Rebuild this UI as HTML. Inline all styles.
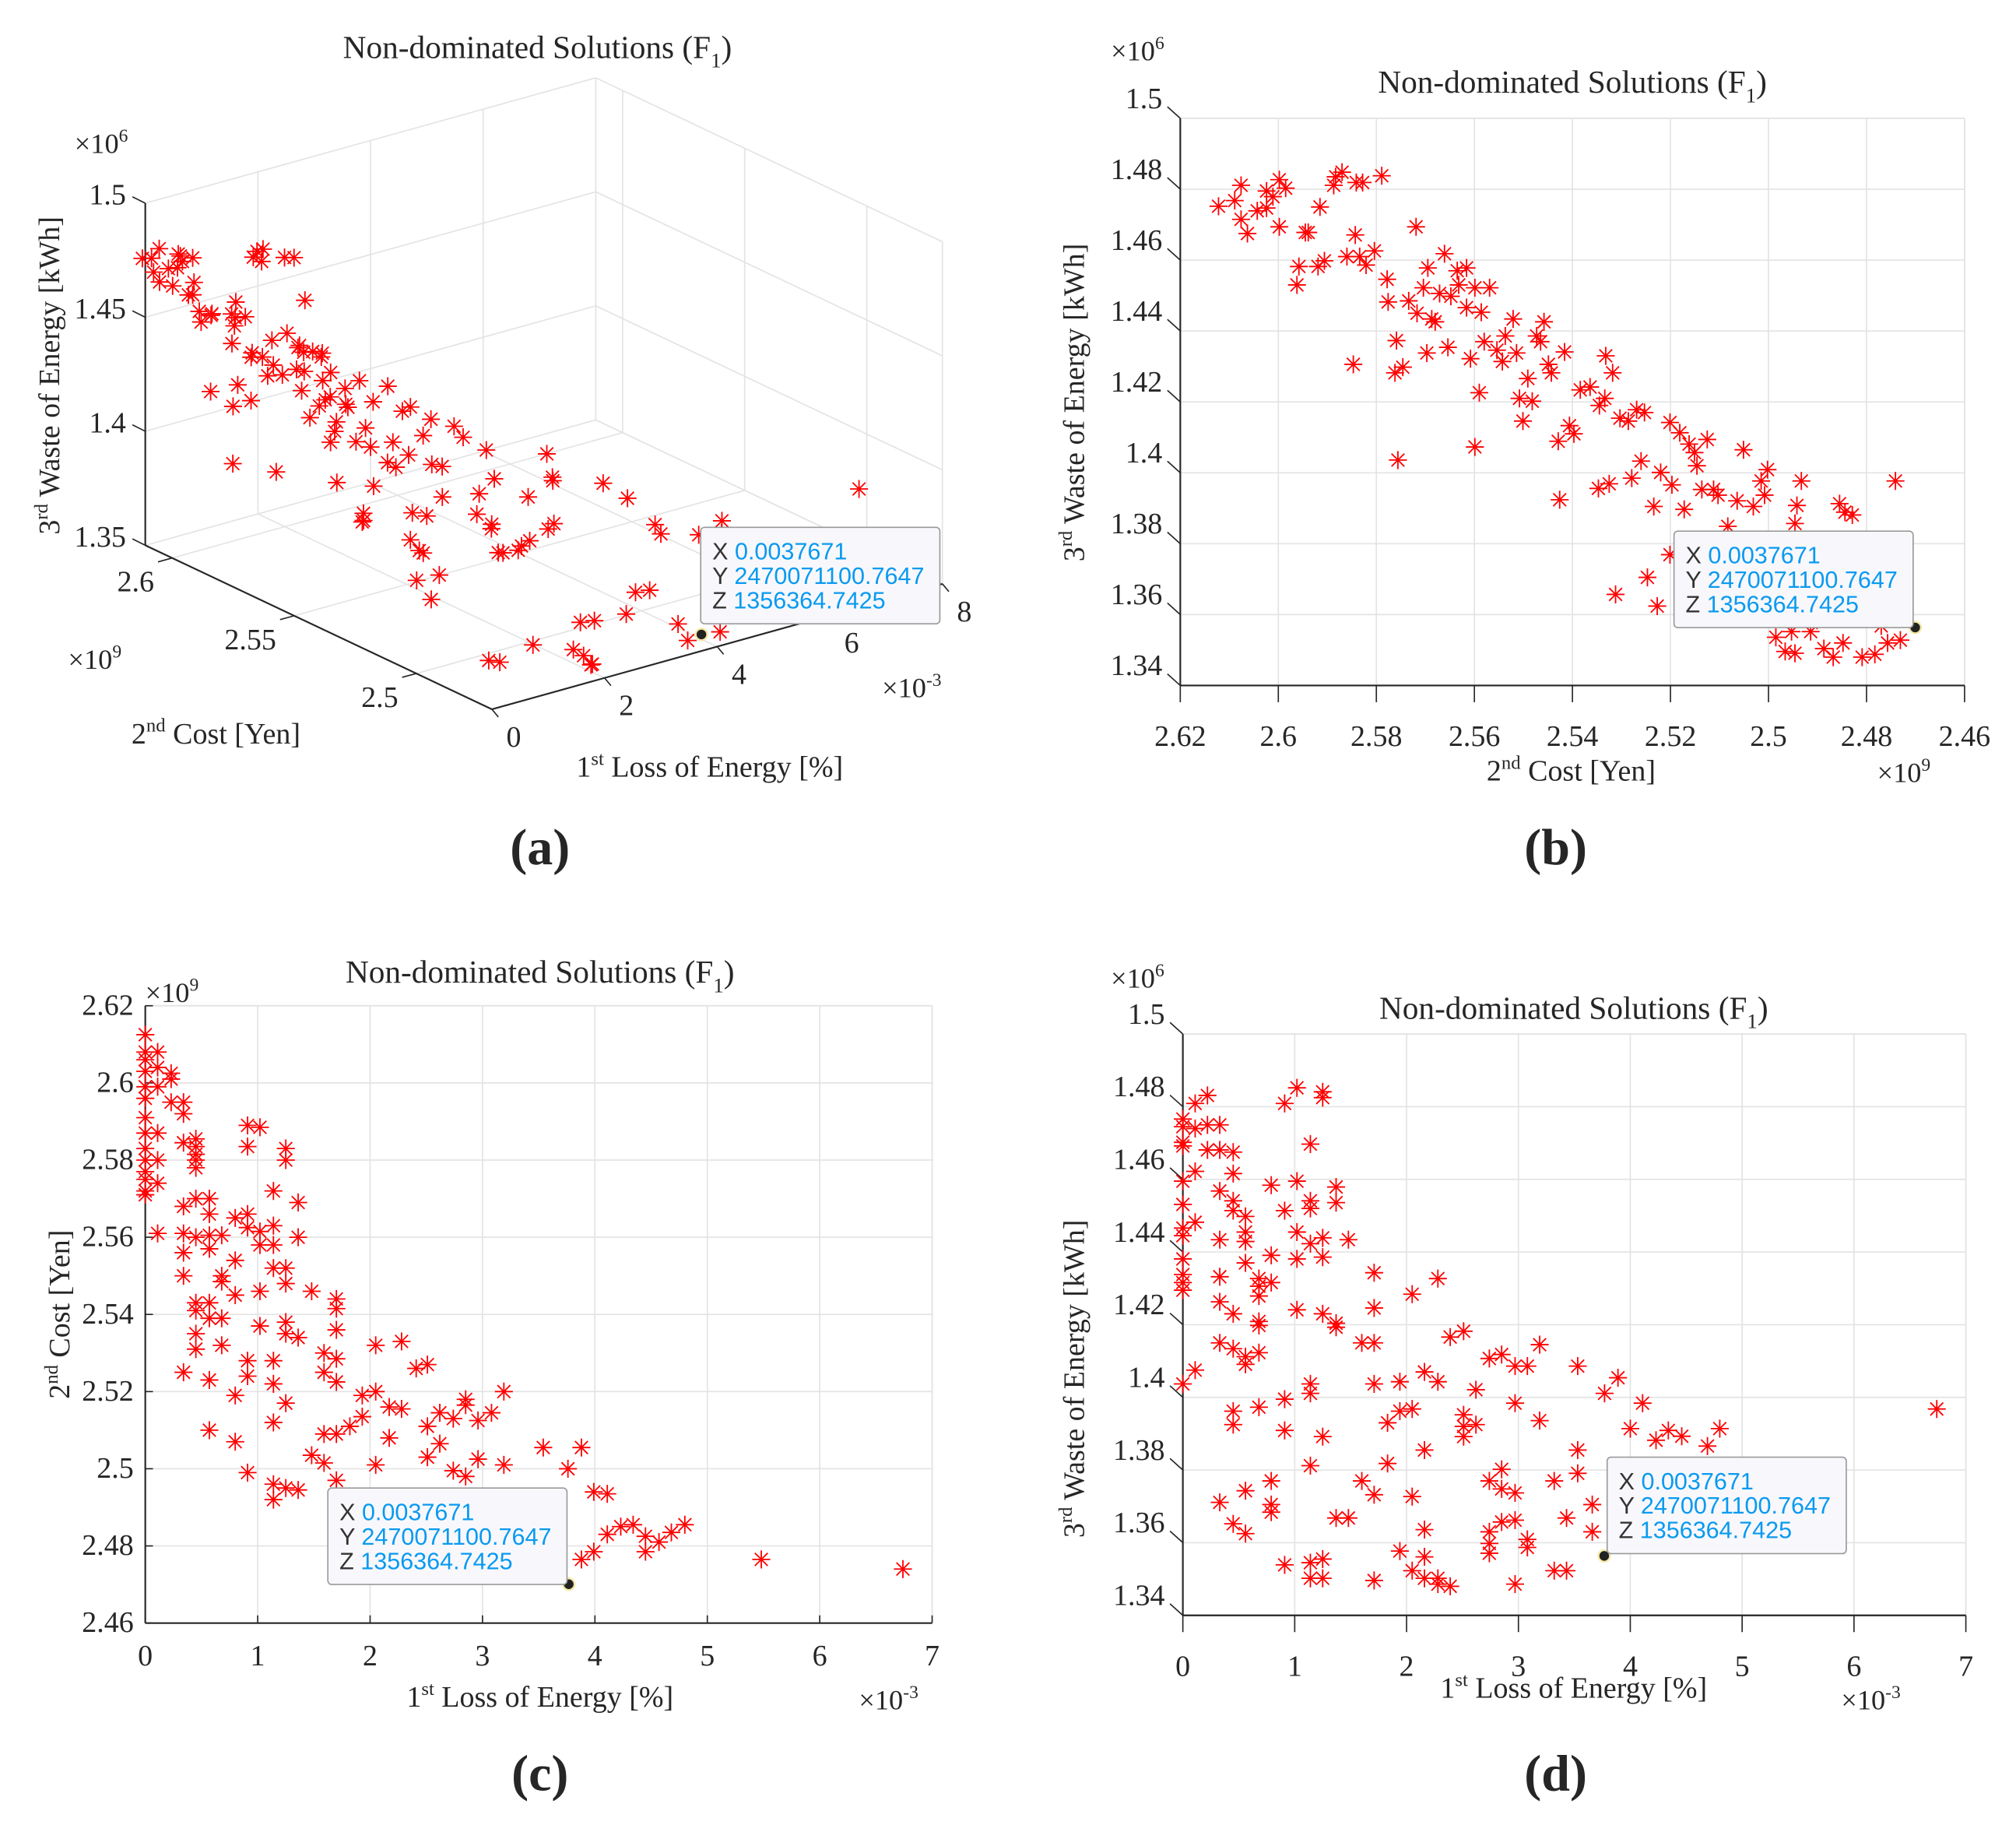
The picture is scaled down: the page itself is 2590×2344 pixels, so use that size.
<!DOCTYPE html>
<html><head><meta charset="utf-8"><title>Non-dominated Solutions</title>
<style>
html,body{margin:0;padding:0;background:#fff;}
svg{display:block;}
.t{font-family:"Liberation Serif",serif;fill:#262626;}
.tt{font-family:"Liberation Sans",sans-serif;}
</style></head>
<body>
<svg id="fig" width="2590" height="2344" viewBox="0 0 1568 1419" preserveAspectRatio="none" xmlns="http://www.w3.org/2000/svg">
<rect x="0" y="0" width="1568" height="1419" fill="#fff"/>
<g id="pa"></g>
<g id="pb"></g>
<g id="pc"></g>
<g id="pd"></g>
</svg>
<script>
// ---------- data ----------
// panel (b): cost [x1e9] vs waste [x1e6]
const bCost = [2.6122,2.6089,2.6076,2.6076,2.6063,2.6043,2.6024,2.6024,2.6011,2.5998,2.5998,2.5985,
2.5962,2.5958,2.5945,2.5939,2.5919,2.5915,2.5906,2.5887,2.5883,2.5870,2.5860,2.5847,
2.5843,2.5841,2.5834,2.5828,2.5821,2.5804,2.5789,2.5778,2.5776,2.5762,2.5759,2.5756,
2.5746,2.5734,2.5719,2.5717,2.5704,2.5697,2.5695,2.5687,2.5680,2.5671,2.5661,2.5654,
2.5648,2.5635,2.5632,2.5616,2.5616,2.5608,2.5599,2.5599,2.5590,2.5586,2.5580,2.5569,
2.5554,2.5543,2.5537,2.5521,2.5514,2.5508,2.5501,2.5491,2.5482,2.5473,2.5465,2.5458,
2.5449,2.5443,2.5429,2.5426,2.5416,2.5406,2.5397,2.5384,2.5364,2.5347,2.5345,2.5334,
2.5332,2.5325,2.5318,2.5303,2.5286,2.5279,2.5269,2.5260,2.5253,2.5234,2.5220,2.5201,
2.5197,2.5181,2.5172,2.5162,2.5151,2.5146,2.5136,2.5125,2.5112,2.5103,2.5083,2.5064,
2.5051,2.5031,2.5015,2.5008,2.5002,2.4942,2.4933,2.4946,2.4855,2.4844,2.4829,2.4741,
2.5201,2.5247,2.5312,2.5227,2.4985,2.4966,2.4953,2.4946,2.4914,2.4887,2.4868,2.4848,
2.4809,2.4783,2.4770,2.4757,2.4731,2.4901,2.4816,2.4796,2.4835,2.4946];
const bWaste = [1.4752,1.4768,1.4811,1.4715,1.4675,1.4739,1.4747,1.4795,1.4779,1.4827,1.4694,1.4803,
1.4530,1.4582,1.4678,1.4678,1.4582,1.4750,1.4598,1.4811,1.4835,1.4848,1.4610,1.4306,
1.4671,1.4819,1.4610,1.4819,1.4586,1.4626,1.4838,1.4546,1.4482,1.4282,1.4373,1.4036,
1.4298,1.4485,1.4694,1.4450,1.4522,1.4338,1.4578,1.4434,1.4426,1.4506,1.4618,1.4354,
1.4498,1.4570,1.4530,1.4466,1.4578,1.4322,1.4073,1.4522,1.4226,1.4453,1.4370,1.4522,
1.4346,1.4314,1.4386,1.4434,1.4338,1.4210,1.4146,1.4266,1.4202,1.4386,1.4370,1.4426,
1.4306,1.4282,1.4089,1.3924,1.4341,1.4133,1.4110,1.4234,1.4242,1.3956,1.4190,1.4210,
1.4330,1.3969,1.4282,1.4154,1.4146,1.3985,1.4178,1.4033,1.4170,1.3905,1.4001,1.4142,
1.3966,1.4113,1.3897,1.4081,1.4057,1.4020,1.3953,1.4094,1.3953,1.3937,1.3849,1.3921,
1.4065,1.3905,1.3977,1.3937,1.4009,1.3908,1.3977,1.3857,1.3913,1.3889,1.3881,1.3977,
1.3769,1.3705,1.3657,1.3624,1.3536,1.3496,1.3552,1.3491,1.3552,1.3504,1.3480,1.3520,
1.3480,1.3488,1.3568,1.3520,1.3528,1.3584,1.3600,1.3624,1.3713,1.3632];
// panel (a): loss [x1e-3] paired with bCost / bWaste
const aLoss = [0,0.02,0.1,0,0.05,0.12,0.2,0.25,0.23,0.1,0,0.3,
0.35,0.3,0.05,0.1,0.34,0.02,0.3,0.95,1.0,1.05,0.45,0.02,
0.45,0.9,0.4,1.25,0.33,0.45,1.25,0.1,0.45,0.05,0.12,0.02,
0.3,0.45,1.14,0.57,0.12,1.36,0.45,0.34,0.57,0.91,0.57,0.8,
1.14,0.68,0.9,0.68,0.57,1.02,0.11,0.91,1.14,1.02,1.25,0.34,
0.68,1.14,0.8,1.25,0.34,0.68,1.36,0.68,1.02,0.8,1.25,1.48,
1.7,1.02,0.45,0.91,1.7,1.25,1.36,1.25,1.7,0.57,1.36,2.28,
1.7,0.45,2.05,1.59,1.7,1.14,2.41,1.59,0.34,0.91,1.14,3.19,
1.93,2.17,0.8,1.82,3.08,2.62,1.93,2.96,1.82,0.57,2.17,2.62,
3.54,1.59,2.51,2.05,3.76,3.99,1.25,4.11,4.8,4.34,4.68,6.74,
2.74,1.48,1.36,1.25,2.85,1.14,2.96,1.25,1.7,2.3,2.4,3.99,
2.3,3.88,5.48,2.05,4.23,3.3,4.45,4.57,3.43,3.66];
// panel (c): loss [x1e-3] vs cost [x1e9]
const cLoss = [0,0,0,0,0,0,0,0,0,0,0,0,0,0,
0.11,0.11,0.11,0.11,0.11,0.11,0.11, 0.23,0.23,0.23,
0.34,0.34,0.34,0.34,0.34,0.34,0.34,0.34,
0.45,0.45,0.45,0.45,0.45,0.45,0.45,0.45,0.45,0.45,0.45,
0.57,0.57,0.57,0.57,0.57,0.57,0.57,0.57, 0.68,0.68,0.68,0.68,0.68,
0.8,0.8,0.8,0.8,0.8, 0.91,0.91,0.91,0.91,0.91,0.91,0.91,
1.02,1.02,1.02,1.02,1.02, 1.14,1.14,1.14,1.14,1.14,1.14,1.14,1.14,1.14,
1.25,1.25,1.25,1.25,1.25,1.25,1.25,1.25, 1.36,1.36,1.36,1.36, 1.48,1.48,
1.59,1.59,1.59,1.59, 1.7,1.7,1.7,1.7,1.7,1.7,1.7, 1.82, 1.93,1.93,
2.05,2.05,2.05, 2.17,2.17, 2.28,2.28, 2.41, 2.51,2.51,2.51, 2.62,2.62,
2.74,2.74, 2.85,2.85,2.85, 2.96,2.96, 3.08, 3.19,3.19, 3.54, 3.76, 3.88,3.88,
3.99,3.99, 4.11,4.11, 4.23, 4.34, 4.45,4.45, 4.57, 4.68, 4.8, 5.48, 6.74];
const cCost = [2.6125,2.608,2.606,2.603,2.599,2.596,2.591,2.587,2.583,2.580,2.577,2.575,2.572,2.571,
2.608,2.604,2.599,2.587,2.580,2.574,2.561, 2.6025,2.601,2.595,
2.595,2.592,2.5845,2.568,2.561,2.556,2.550,2.525,
2.5855,2.5835,2.5815,2.580,2.578,2.570,2.560,2.543,2.541,2.535,2.531,
2.570,2.566,2.5605,2.557,2.543,2.539,2.523,2.510, 2.5605,2.550,2.5485,2.539,2.532,
2.565,2.554,2.545,2.519,2.507, 2.589,2.5835,2.566,2.5625,2.528,2.524,2.499,
2.5885,2.5615,2.558,2.546,2.537, 2.572,2.563,2.558,2.552,2.528,2.522,2.512,2.496,2.492,
2.583,2.580,2.552,2.548,2.538,2.535,2.517,2.495, 2.569,2.560,2.534,2.4945, 2.546,2.5035,
2.530,2.525,2.509,2.5015, 2.544,2.5415,2.536,2.5285,2.5225,2.509,2.497, 2.511, 2.519,2.5135,
2.532,2.520,2.501, 2.516,2.508, 2.533,2.5155, 2.526, 2.527,2.511,2.503, 2.5145,2.5065,
2.513,2.4995, 2.518,2.5165,2.498, 2.5125,2.5025, 2.5145, 2.520,2.501, 2.5055, 2.500, 2.5055,2.4765,
2.494,2.4785, 2.4935,2.483, 2.485, 2.4855, 2.4825,2.4785, 2.481, 2.4835, 2.4855, 2.4765, 2.474];
// panel (d): loss [x1e-3] vs waste [x1e6]
const dLoss = [0,0,0,0,0,0,0,0,0,0,0,0,0,
0.11,0.11,0.11,0.11,0.11, 0.22,0.22,0.22,
0.33,0.33,0.33,0.33,0.33,0.33,0.33,0.33,
0.45,0.45,0.45,0.45,0.45,0.45,0.45,0.45,0.45,
0.56,0.56,0.56,0.56,0.56,0.56,0.56,0.56,
0.68,0.68,0.68,0.68,0.68,0.68,0.68, 0.79,0.79,0.79,0.79,0.79,0.79,
0.91,0.91,0.91,0.91,0.91, 1.02,1.02,1.02,1.02,1.02,
1.14,1.14,1.14,1.14,1.14,1.14,1.14,1.14,1.14, 1.25,1.25,1.25,1.25,1.25,1.25,1.25,1.25,
1.37,1.37,1.37,1.37,1.37, 1.48,1.48, 1.6,1.6, 1.71,1.71,1.71,1.71,1.71,1.71,
1.83,1.83, 1.94,1.94,1.94, 2.05,2.05,2.05,2.05, 2.16,2.16,2.16,2.16,2.16,
2.28,2.28,2.28,2.28, 2.39,2.39, 2.51,2.51,2.51,2.51, 2.62,2.62,
2.74,2.74,2.74,2.74,2.74, 2.85,2.85,2.85,2.85, 2.97,2.97,2.97,2.97,2.97,
3.08,3.08,3.08, 3.19,3.19, 3.32,3.32, 3.43,3.43, 3.53,3.53,3.53, 3.66,3.66,
3.77, 3.89, 4.0, 4.11, 4.23, 4.34, 4.46, 4.69, 4.8, 6.74];
const dWaste = [1.4766,1.4745,1.4702,1.4692,1.4595,1.4531,1.4466,1.4445,1.4381,1.4338,1.4316,1.4295,1.4037,
1.4809,1.4740,1.4622,1.4482,1.4075, 1.4831,1.4750,1.4681,
1.4750,1.4681,1.4568,1.4434,1.4332,1.4263,1.4150,1.3711,
1.4675,1.4616,1.4541,1.4514,1.4230,1.4134,1.3962,1.3925,1.3652,
1.4498,1.4455,1.4429,1.4370,1.4112,1.4091,1.3743,1.3625,
1.4327,1.4306,1.4279,1.4209,1.4198,1.4123,1.3973, 1.4584,1.4391,1.4316,1.3770,1.3705,1.3684,
1.4809,1.4514,1.3995,1.3909,1.3539, 1.4852,1.4595,1.4455,1.4381,1.4241,
1.4697,1.4541,1.4520,1.4423,1.4037,1.4011,1.3812,1.3545,1.3502, 1.4841,1.4825,1.4439,1.4386,1.4230,1.3892,1.3555,1.3502,
1.4579,1.4536,1.4204,1.4193,1.3668, 1.4434,1.3668, 1.4150,1.3770, 1.4343,1.4246,1.4150,1.4037,1.3732,1.3496,
1.3930,1.3818, 1.4043,1.3962,1.3577, 1.4284,1.3968,1.3727,1.3523, 1.4070,1.3855,1.3636,1.3561,1.3502,
1.4327,1.4043,1.3502,1.3486, 1.4166,1.3480, 1.4182,1.3952,1.3920,1.3892, 1.4021,1.3925,
1.4107,1.3770,1.3630,1.3598,1.3571, 1.4118,1.3802,1.3748,1.3657, 1.4086,1.3984,1.3737,1.3662,1.3486,
1.4086,1.3609,1.3587, 1.4145,1.3936, 1.3770,1.3523, 1.3668,1.3523, 1.4086,1.3855,1.3791, 1.3705,1.3630,
1.4011, 1.4054, 1.3914, 1.3984, 1.3882, 1.3909, 1.3893, 1.3866, 1.3914, 1.3968];
// highlighted data-tip point
const hiLoss = [3.7671];
const hiCost = [2.4700711007647];
const hiWaste = [1.3563647425];
// tick labels
const lossTicks2D = [0,1,2,3,4,5,6,7];
const costTicksB = [2.62,2.6,2.58,2.56,2.54,2.52,2.5,2.48,2.46];
const costTicksC = [2.46,2.48,2.5,2.52,2.54,2.56,2.58,2.6,2.62];
const wasteTicks2D = [1.34,1.36,1.38,1.4,1.42,1.44,1.46,1.48,1.5];
const lossTicks3D = [0,2,4,6,8];
const costTicks3D = [2.5,2.55,2.6];
const wasteTicks3D = [1.35,1.4,1.45,1.5];

// ---------- helpers ----------
const NS = "http://www.w3.org/2000/svg";
const AX = "#262626", GRID = "#e3e3e3", RED = "#ff0000";
const TICK = 23, AXT = 23, EXP = 22, TTL = 25, TIP = 18.5;
function mk(parent, tag, attrs, text){
  const el = document.createElementNS(NS, tag);
  for (const k in attrs) el.setAttribute(k, attrs[k]);
  if (text !== undefined) el.textContent = text;
  parent.appendChild(el);
  return el;
}
function line(g,x1,y1,x2,y2,c,w){ return mk(g,"line",{x1:x1,y1:y1,x2:x2,y2:y2,stroke:c,"stroke-width":w||1}); }
function fmt(v){ return String(+v.toFixed(3)); }
function star(g,x,y){
  const r = 7, d = 5;
  const p = mk(g,"path",{d:`M${x-r},${y}H${x+r}M${x},${y-r}V${y+r}M${x-d},${y-d}L${x+d},${y+d}M${x-d},${y+d}L${x+d},${y-d}`,stroke:RED,"stroke-width":1.1,fill:"none"});
  
  
  return p;
}
function hiDot(g,x,y){
  const c = mk(g,"circle",{cx:x,cy:y,r:4.5,fill:"#222",stroke:"#f5e9a8","stroke-width":1.5});
  
  
}
function tooltip(g,x,y){
  const t = mk(g,"g",{});
  
  
  mk(t,"rect",{x:x,y:y,width:186,height:75,rx:3,fill:"#f8f8fc",stroke:"#9a9a9a","stroke-width":1});
  const rows = [["X","0.0037671"],["Y","2470071100.7647"],["Z","1356364.7425"]];
  rows.forEach((r,i)=>{
    const tx = mk(t,"text",{x:x+9,y:y+25+i*19,"font-size":TIP,"class":"tt",fill:"#333"});
    mk(tx,"tspan",{},r[0]+" ");
    mk(tx,"tspan",{fill:"#0a9af0"},r[1]);
  });
}
function label(g,x,y,size,parts,anchor,rot,name){
  const attrs = {x:x,y:y,"font-size":size,"class":"t","text-anchor":anchor||"middle"};
  if (rot) attrs.transform = `rotate(${rot} ${x} ${y})`;
  const t = mk(g,"text",attrs);
  parts.forEach(p=>{
    if (p[1]==="sup") mk(t,"tspan",{"font-size":size*0.65,dy:-size*0.4},p[0]);
    else if (p[1]==="sub") mk(t,"tspan",{"font-size":size*0.65,dy:size*0.3},p[0]);
    else if (p[1]==="back") mk(t,"tspan",{dy:size*0.4},p[0]);
    else if (p[1]==="backsub") mk(t,"tspan",{dy:-size*0.3},p[0]);
    else mk(t,"tspan",{},p[0]);
  });
  
  
  return t;
}
function title(g,x,y){
  label(g,x,y,TTL,[["Non-dominated Solutions (F"],["1","sub"],[")","backsub"]],"middle",0,"chart-title");
}
function panelLetter(g,x,y,s){
  const t = mk(g,"text",{x:x,y:y,"font-size":40,"font-weight":"bold","class":"t","text-anchor":"middle",fill:"#000"},s);
  
  
}

// ---------- 2D panel builder ----------
function panel2D(g, o){
  const sx = v => o.x0 + (v - o.xmin)/(o.xmax - o.xmin)*(o.x1 - o.x0);
  const sy = v => o.y1 - (v - o.ymin)/(o.ymax - o.ymin)*(o.y1 - o.y0);
  const grid = mk(g,"g",{});
  
  
  o.xt.forEach(v=>line(grid,sx(v),o.y0,sx(v),o.y1,GRID));
  o.yt.forEach(v=>line(grid,o.x0,sy(v),o.x1,sy(v),GRID));
  line(grid,o.x1,o.y0,o.x1,o.y1,GRID);
  line(grid,o.x0,o.y0,o.x1,o.y0,GRID);
  const xa = mk(g,"g",{});
  
  
  line(xa,o.x0,o.y1,o.x1,o.y1,AX,1.3);
  o.xt.forEach(v=>{
    if (o.slant) line(xa,sx(v),o.y1,sx(v),o.y1+13,AX,1);
    else line(xa,sx(v),o.y1,sx(v),o.y1-6,AX,1);
    const t = mk(xa,"text",{x:sx(v),y:o.y1+(o.slant?47:33),"font-size":TICK,"class":"t","text-anchor":"middle"},fmt(v));
    
    
  });
  const ya = mk(g,"g",{});
  
  
  line(ya,o.x0,o.y0,o.x0,o.y1,AX,1.3);
  o.yt.forEach(v=>{
    let ly = sy(v)+7;
    if (o.slant){ line(ya,o.x0,sy(v),o.x0-10,sy(v)-9,AX,1); ly = sy(v)-8; }
    else line(ya,o.x0,sy(v),o.x0+6,sy(v),AX,1);
    const t = mk(ya,"text",{x:o.x0-(o.slant?14:9),y:ly,"font-size":TICK,"class":"t","text-anchor":"end"},fmt(v));
    
    
  });
  const pts = mk(g,"g",{});
  
  
  const n = Math.min(o.xs.length, o.ys.length);
  for (let i=0;i<n;i++) star(pts, sx(o.xs[i]), sy(o.ys[i]));
  hiDot(g, sx(o.hx), sy(o.hy));
  return {sx, sy};
}

// ---------- panel (b) ----------
const gb = document.getElementById("pb");
panel2D(gb,{x0:918,x1:1528,y0:92,y1:533,xmin:2.62,xmax:2.46,ymin:1.34,ymax:1.5,
  xt:costTicksB,yt:wasteTicks2D,slant:true,xs:bCost,ys:bWaste,hx:hiCost[0],hy:hiWaste[0]});
title(gb,1223,72);
label(gb,864,47,EXP,[["×10"],["6","sup"]],"start",0,"y-exponent");
label(gb,843,313,AXT,[["3"],["rd","sup"],[" Waste of Energy [kWh]","back"]],"middle",-90,"y-axis-title");
label(gb,1222,607,AXT,[["2"],["nd","sup"],[" Cost [Yen]","back"]],"middle",0,"x-axis-title");
label(gb,1460,608,EXP,[["×10"],["9","sup"]],"start",0,"x-exponent");
tooltip(gb,1302,413);
panelLetter(gb,1210,672,"(b)");

// ---------- panel (c) ----------
const gc = document.getElementById("pc");
panel2D(gc,{x0:113,x1:725,y0:782,y1:1262,xmin:0,xmax:7,ymin:2.46,ymax:2.62,
  xt:lossTicks2D,yt:costTicksC,slant:false,xs:cLoss,ys:cCost,hx:hiLoss[0],hy:hiCost[0]});
title(gc,420,764);
label(gc,113,779,EXP,[["×10"],["9","sup"]],"start",0,"y-exponent");
label(gc,54,1022,AXT,[["2"],["nd","sup"],[" Cost [Yen]","back"]],"middle",-90,"y-axis-title");
label(gc,420,1327,AXT,[["1"],["st","sup"],[" Loss of Energy [%]","back"]],"middle",0,"x-axis-title");
label(gc,668,1329,EXP,[["×10"],["-3","sup"]],"start",0,"x-exponent");
tooltip(gc,255,1157);
panelLetter(gc,420,1392,"(c)");

// ---------- panel (d) ----------
const gd = document.getElementById("pd");
panel2D(gd,{x0:920,x1:1529,y0:804,y1:1256,xmin:0,xmax:7,ymin:1.34,ymax:1.5,
  xt:lossTicks2D,yt:wasteTicks2D,slant:true,xs:dLoss,ys:dWaste,hx:hiLoss[0],hy:hiWaste[0]});
title(gd,1224,792);
label(gd,864,768,EXP,[["×10"],["6","sup"]],"start",0,"y-exponent");
label(gd,843,1072,AXT,[["3"],["rd","sup"],[" Waste of Energy [kWh]","back"]],"middle",-90,"y-axis-title");
label(gd,1224,1320,AXT,[["1"],["st","sup"],[" Loss of Energy [%]","back"]],"middle",0,"x-axis-title");
label(gd,1432,1329,EXP,[["×10"],["-3","sup"]],"start",0,"x-exponent");
tooltip(gd,1250,1133);
panelLetter(gd,1210,1392,"(d)");

// ---------- panel (a): 3D ----------
const ga = document.getElementById("pa");
const L0=0, L1=8, C0=2.469, C1=2.611, Z0=1.35, Z1=1.5;
function P(loss,cost,z){
  const tl=(loss-L0)/(L1-L0), tc=(C1-cost)/(C1-C0), tz=(z-Z0)/(Z1-Z0);
  return [113+269.6*tc+350.4*tl, 424+127.5*tc-97.5*tl-266*tz];
}
function l3(g,a,b,c,w){ const p=P(...a), q=P(...b); return line(g,p[0],p[1],q[0],q[1],c,w); }
const g3 = mk(ga,"g",{});


lossTicks3D.forEach(v=>l3(g3,[v,C1,Z0],[v,C1,Z1],GRID));
wasteTicks3D.forEach(v=>l3(g3,[L0,C1,v],[L1,C1,v],GRID));
costTicks3D.forEach(v=>l3(g3,[L1,v,Z0],[L1,v,Z1],GRID));
wasteTicks3D.forEach(v=>l3(g3,[L1,C1,v],[L1,C0,v],GRID));
l3(g3,[L1,C0,Z0],[L1,C0,Z1],GRID);
lossTicks3D.forEach(v=>l3(g3,[v,C1,Z0],[v,C0,Z0],GRID));
costTicks3D.forEach(v=>l3(g3,[L0,v,Z0],[L1,v,Z0],GRID));
const ax3 = mk(ga,"g",{});


l3(ax3,[L0,C1,Z0],[L0,C1,Z1],AX,1.3);
l3(ax3,[L0,C1,Z0],[L0,C0,Z0],AX,1.3);
l3(ax3,[L0,C0,Z0],[L1,C0,Z0],AX,1.3);
wasteTicks3D.forEach(v=>{
  const p=P(L0,C1,v);
  line(ax3,p[0],p[1],p[0]-10,p[1]-5,AX,1);
  const t = mk(ax3,"text",{x:p[0]-15,y:p[1]+1,"font-size":TICK,"class":"t","text-anchor":"end"},fmt(v));
  
  
});
costTicks3D.forEach(v=>{
  const p=P(L0,v,Z0);
  line(ax3,p[0],p[1],p[0]-11,p[1]+3,AX,1);
  const t = mk(ax3,"text",{x:p[0]-14,y:p[1]+26,"font-size":TICK,"class":"t","text-anchor":"end"},fmt(v));
  
  
});
lossTicks3D.forEach(v=>{
  const p=P(v,C0,Z0);
  line(ax3,p[0],p[1],p[0]+5,p[1]+6,AX,1);
  const t = mk(ax3,"text",{x:p[0]+17,y:p[1]+29,"font-size":TICK,"class":"t","text-anchor":"middle"},fmt(v));
  
  
});
const pts3 = mk(ga,"g",{});


const n3 = Math.min(aLoss.length,bCost.length,bWaste.length);
for (let i=0;i<n3;i++){ const p=P(aLoss[i],bCost[i],bWaste[i]); star(pts3,p[0],p[1]); }
{ const p=P(hiLoss[0],hiCost[0],hiWaste[0]); hiDot(ga,p[0],p[1]); }
title(ga,418,45);
label(ga,58,119,EXP,[["×10"],["6","sup"]],"start",0,"z-exponent");
label(ga,46,292,AXT,[["3"],["rd","sup"],[" Waste of Energy [kWh]","back"]],"middle",-90,"z-axis-title");
label(ga,53,520,EXP,[["×10"],["9","sup"]],"start",0,"cost-exponent");
label(ga,168,578,AXT,[["2"],["nd","sup"],[" Cost [Yen]","back"]],"middle",0,"cost-axis-title");
label(ga,686,542,EXP,[["×10"],["-3","sup"]],"start",0,"loss-exponent");
label(ga,552,604,AXT,[["1"],["st","sup"],[" Loss of Energy [%]","back"]],"middle",0,"loss-axis-title");
tooltip(ga,545,410);
panelLetter(ga,420,672,"(a)");
</script>
</body></html>
